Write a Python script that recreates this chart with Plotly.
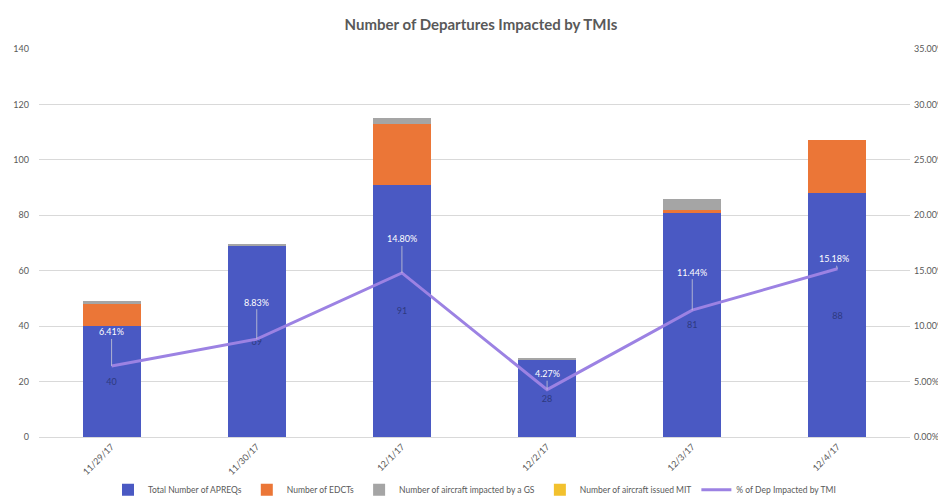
import plotly.graph_objects as go

dates = ["11/29/17", "11/30/17", "12/1/17", "12/2/17", "12/3/17", "12/4/17"]
apreqs = [40, 69, 91, 28, 81, 88]
edcts = [8, 0, 22, 0, 1, 19]
gs = [1, 0.4, 2, 0.5, 4, 0]
mit = [0, 0, 0, 0, 0, 0]
pct = [0.0641, 0.0883, 0.1480, 0.0427, 0.1144, 0.1518]
pct_labels = ["6.41%", "8.83%", "14.80%", "4.27%", "11.44%", "15.18%"]
label_offsets = [(0, -34), (0, -37), (0, -34), (0, -16), (0, -38), (-3, -10)]

FONT = "Lato, Open Sans, sans-serif"

fig = go.Figure()
fig.add_trace(go.Bar(x=dates, y=apreqs, name="Total Number of APREQs",
                     marker=dict(color="#4A59C3", line=dict(width=0)),
                     text=[str(v) for v in apreqs], textposition="inside",
                     insidetextanchor="middle",
                     textfont=dict(color="#2E3A80", size=9, family=FONT)))
fig.add_trace(go.Bar(x=dates, y=edcts, name="Number of EDCTs",
                     marker=dict(color="#EB7637", line=dict(width=0))))
fig.add_trace(go.Bar(x=dates, y=gs, name="Number of aircraft impacted by a GS",
                     marker=dict(color="#A5A5A5", line=dict(width=0))))
fig.add_trace(go.Bar(x=dates, y=mit, name="Number of aircraft issued MIT",
                     marker=dict(color="#F2C12E", line=dict(width=0))))
fig.add_trace(go.Scatter(x=dates, y=pct, name="% of Dep Impacted by TMI",
                         mode="lines", yaxis="y2",
                         line=dict(color="#9C82E3", width=3)))

for d, p, lab, (ax, ay) in zip(dates, pct, pct_labels, label_offsets):
    fig.add_annotation(x=d, y=p, yref="y2", text=lab, showarrow=True,
                       arrowhead=0, arrowwidth=0.8, arrowcolor="#C9C9D6",
                       ax=ax, ay=ay, standoff=0,
                       font=dict(color="white", size=9, family=FONT))

fig.update_layout(
    width=946, height=504,
    barmode="stack", bargap=0.6,
    paper_bgcolor="white", plot_bgcolor="white",
    margin=dict(l=31, r=44, t=41, b=75, autoexpand=False),
    title=dict(text="<b>Number of Departures Impacted by TMIs</b>", x=0.5, y=0.966,
               xanchor="center", yanchor="middle",
               font=dict(size=15, color="#595959", family=FONT)),
    font=dict(family=FONT, color="#595959", size=9),
    xaxis=dict(type="category", tickangle=-45, showgrid=False, automargin=False,
               showline=True, linecolor="#D9D9D9", ticks="",
               tickfont=dict(size=9, color="#595959")),
    yaxis=dict(range=[0, 140], dtick=20, showgrid=True, gridcolor="#D9D9D9",
               automargin=False, ticklabelstandoff=9,
               zeroline=False, ticks="", tickfont=dict(size=9, color="#595959")),
    yaxis2=dict(range=[0, 0.35], dtick=0.05, tickformat=".2%", overlaying="y",
                side="right", showgrid=False, zeroline=False, ticks="",
                automargin=False, ticklabelstandoff=3,
                tickfont=dict(size=9, color="#595959")),
    legend=dict(orientation="h", x=0.5, xanchor="center", y=0.044, yanchor="middle",
                yref="container",
                font=dict(size=8.5, color="#595959"), traceorder="normal"),
)

fig.write_html("out.html")
